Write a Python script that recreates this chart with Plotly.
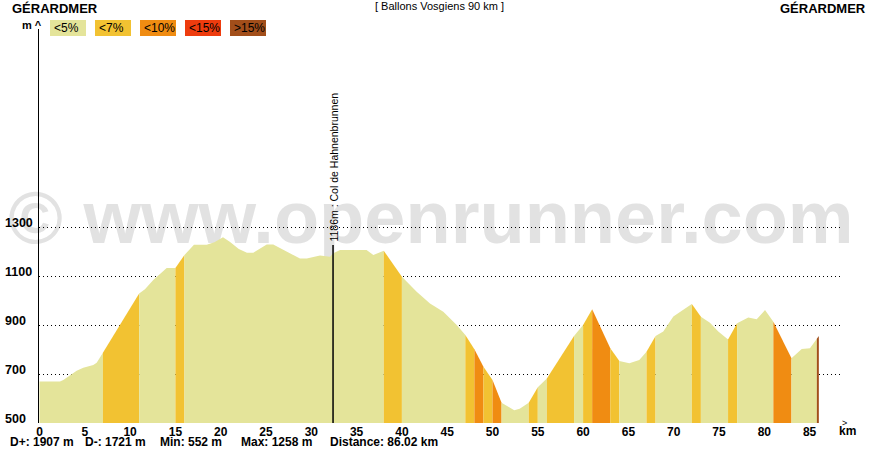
import numpy as np
import plotly.graph_objects as go

# ---------------- data ----------------
dist_km = [0.0, 2.26, 2.63, 4.1, 4.83, 5.94, 6.31, 7.0, 11.0, 11.64, 12.56, 14.04, 15.0, 16.0,
           17.05, 18.45, 19.3, 20.25, 21.0, 22.0, 22.9, 23.6, 25.08, 25.8, 27.65, 28.75, 29.5,
           30.96, 32.06, 32.43, 33.17, 36.1, 36.85, 37.4, 38.0, 40.0, 41.63, 43.1, 44.57, 46.05,
           47.0, 48.0, 49.0, 50.0, 51.0, 51.57, 52.4, 53.0, 54.0, 55.0, 56.0, 59.0, 60.0, 61.0,
           63.0, 64.0, 65.1, 66.2, 67.0, 68.0, 68.85, 69.96, 71.06, 72.0, 73.0, 74.0, 74.92,
           75.45, 76.0, 77.0, 78.23, 79.16, 80.08, 81.0, 83.0, 84.13, 85.04, 86.02]
elev_m = [669, 669, 676, 713, 726, 737, 746, 787, 1029, 1046, 1084, 1133, 1133, 1186,
          1228, 1228, 1238, 1258, 1240, 1210, 1195, 1195, 1229, 1229, 1193, 1171, 1171,
          1184, 1179, 1193, 1206, 1206, 1186, 1195, 1203, 1097, 1036, 988, 954, 900,
          859, 801, 730, 676, 583, 569, 552, 558, 583, 646, 682, 855, 900, 964,
          805, 753, 744, 757, 791, 855, 873, 935, 961, 986, 934, 909, 873,
          859, 841, 907, 931, 923, 961, 913, 764, 802, 805, 855]

seg_start_km = [0, 7, 11, 15, 16, 38, 40, 47, 48, 49, 50, 51, 54, 55, 56, 59, 60, 61, 63, 64,
                67, 68, 72, 73, 76, 77, 81, 83, 85.8]
seg_end_km = [7, 11, 15, 16, 38, 40, 47, 48, 49, 50, 51, 54, 55, 56, 59, 60, 61, 63, 64, 67,
              68, 72, 73, 76, 77, 81, 83, 85.8, 86.02]
seg_class = [0, 1, 0, 1, 0, 1, 0, 1, 2, 1, 2, 0, 1, 0, 1, 0, 1, 2, 1, 0,
             1, 0, 1, 0, 1, 0, 2, 0, 4]

class_labels = ["&lt;5%", "&lt;7%", "&lt;10%", "&lt;15%", "&gt;15%"]
class_colors = ["#e4e49a", "#f2c232", "#f08c12", "#ee3c0e", "#a24e1a"]

x_tick_vals = list(range(0, 90, 5))
y_tick_vals = [500, 700, 900, 1100, 1300]

col_km = 32.4
col_label = "1186m : Col de Hahnenbrunnen"

start_name = "GÉRARDMER"
end_name = "GÉRARDMER"
route_title = "[ Ballons Vosgiens 90 km ]"
stats_texts = ["D+: 1907 m", "D-: 1721 m", "Min: 552 m", "Max: 1258 m", "Distance: 86.02 km"]
watermark = "© www.openrunner.com"

# ---------------- layout geometry ----------------
W, H = 880, 450
L, R, T, B = 39, 40, 29, 27
PW, PH = W - L - R, H - T - B
KM_PX = 9.06
M_PX = 0.245
FONT = "Liberation Sans, Arial, sans-serif"


def px(x):
    return (x - L) / PW


def py(y):
    return (H - B - y) / PH


fig = go.Figure()

dist = np.array(dist_km, dtype=float)
elev = np.array(elev_m, dtype=float)
for s, e, c in zip(seg_start_km, seg_end_km, seg_class):
    inner = dist[(dist > s) & (dist < e)]
    xs = np.concatenate([[s], inner, [e]])
    ys = np.interp(xs, dist, elev)
    fig.add_trace(go.Scatter(x=xs, y=ys, mode="lines", fill="tozeroy",
                             fillcolor=class_colors[c], line=dict(width=0, color=class_colors[c]),
                             hoverinfo="skip", showlegend=False))

x0 = -(0.5) / KM_PX
fig.update_xaxes(range=[x0, x0 + PW / KM_PX], tickvals=x_tick_vals, ticks="",
                 showgrid=False, zeroline=False, showline=False, automargin=False,
                 tickfont=dict(family=FONT, size=12, color="black", weight="bold"))
fig.update_yaxes(range=[500, 500 + PH / M_PX], tickvals=y_tick_vals, showticklabels=False,
                 ticks="", showgrid=True, gridcolor="black", gridwidth=1, griddash="1px,3px",
                 zeroline=False, showline=True, linecolor="black", linewidth=1, automargin=False)

shapes = []
# watermark (below gridlines)
shapes.append(dict(type="rect", xref="paper", yref="paper", x0=px(0), x1=px(862),
                   y0=py(250), y1=py(170), line=dict(width=0), fillcolor="rgba(0,0,0,0)",
                   layer="below",
                   label=dict(text=watermark, textposition="middle center",
                              font=dict(family=FONT, size=74, color="#e2e2e2", weight="bold"))))
# col marker line
shapes.append(dict(type="line", xref="x", yref="paper", x0=col_km, x1=col_km,
                   y0=0, y1=py(245), line=dict(color="black", width=1.5)))
# legend boxes
box_lefts = [50, 95, 140, 185, 230]
for bx, col in zip(box_lefts, class_colors):
    shapes.append(dict(type="rect", xref="paper", yref="paper", x0=px(bx), x1=px(bx + 36),
                       y0=py(36), y1=py(20), line=dict(width=0), fillcolor=col, layer="above"))

ann = []
for bx, lab in zip(box_lefts, class_labels):
    ann.append(dict(text=lab, xref="paper", yref="paper", x=px(bx + 2), y=py(28),
                    xanchor="left", yanchor="middle", showarrow=False,
                    font=dict(family=FONT, size=12, color="black")))

ann.append(dict(text=start_name, xref="paper", yref="paper", x=px(10), y=py(8),
                xanchor="left", yanchor="middle", showarrow=False,
                font=dict(family=FONT, size=13, color="black", weight="bold")))
ann.append(dict(text=end_name, xref="paper", yref="paper", x=px(868), y=py(8),
                xanchor="right", yanchor="middle", showarrow=False,
                font=dict(family=FONT, size=13, color="black", weight="bold")))
ann.append(dict(text=route_title, xref="paper", yref="paper", x=px(439), y=py(6),
                xanchor="center", yanchor="middle", showarrow=False,
                font=dict(family=FONT, size=11, color="black")))

for v in y_tick_vals:
    ann.append(dict(text=str(v), xref="paper", yref="y", x=px(3), y=v, yshift=4,
                    xanchor="left", yanchor="middle", showarrow=False,
                    font=dict(family=FONT, size=12.5, color="black", weight="bold")))

stat_lefts = [8, 83, 158, 239, 328]
for sx, st in zip(stat_lefts, stats_texts):
    ann.append(dict(text=st, xref="paper", yref="paper", x=px(sx), y=py(442),
                    xanchor="left", yanchor="middle", showarrow=False,
                    font=dict(family=FONT, size=12, color="black", weight="bold")))

ann.append(dict(text="m ^", xref="paper", yref="paper", x=px(44), y=py(25),
                xanchor="right", yanchor="middle", showarrow=False,
                font=dict(family=FONT, size=11, color="black", weight="bold")))
ann.append(dict(text="km", xref="paper", yref="paper", x=px(837), y=py(431),
                xanchor="left", yanchor="middle", showarrow=False,
                font=dict(family=FONT, size=12, color="black", weight="bold")))
ann.append(dict(text="&gt;", xref="paper", yref="paper", x=px(840), y=py(423),
                xanchor="left", yanchor="middle", showarrow=False,
                font=dict(family=FONT, size=9, color="black")))

ann.append(dict(text=col_label, xref="x", yref="paper", x=col_km, y=py(244),
                xanchor="center", yanchor="bottom", textangle=-90, showarrow=False,
                font=dict(family=FONT, size=10.5, color="black")))

fig.update_layout(width=W, height=H,
                  margin=dict(l=L, r=R, t=T, b=B, pad=0, autoexpand=False),
                  paper_bgcolor="white", plot_bgcolor="rgba(0,0,0,0)",
                  shapes=shapes, annotations=ann, showlegend=False,
                  font=dict(family=FONT))

fig.write_html("out.html", config={"displayModeBar": False, "staticPlot": True},
               post_script="document.body.style.margin='0px';document.body.style.overflow='hidden';")
